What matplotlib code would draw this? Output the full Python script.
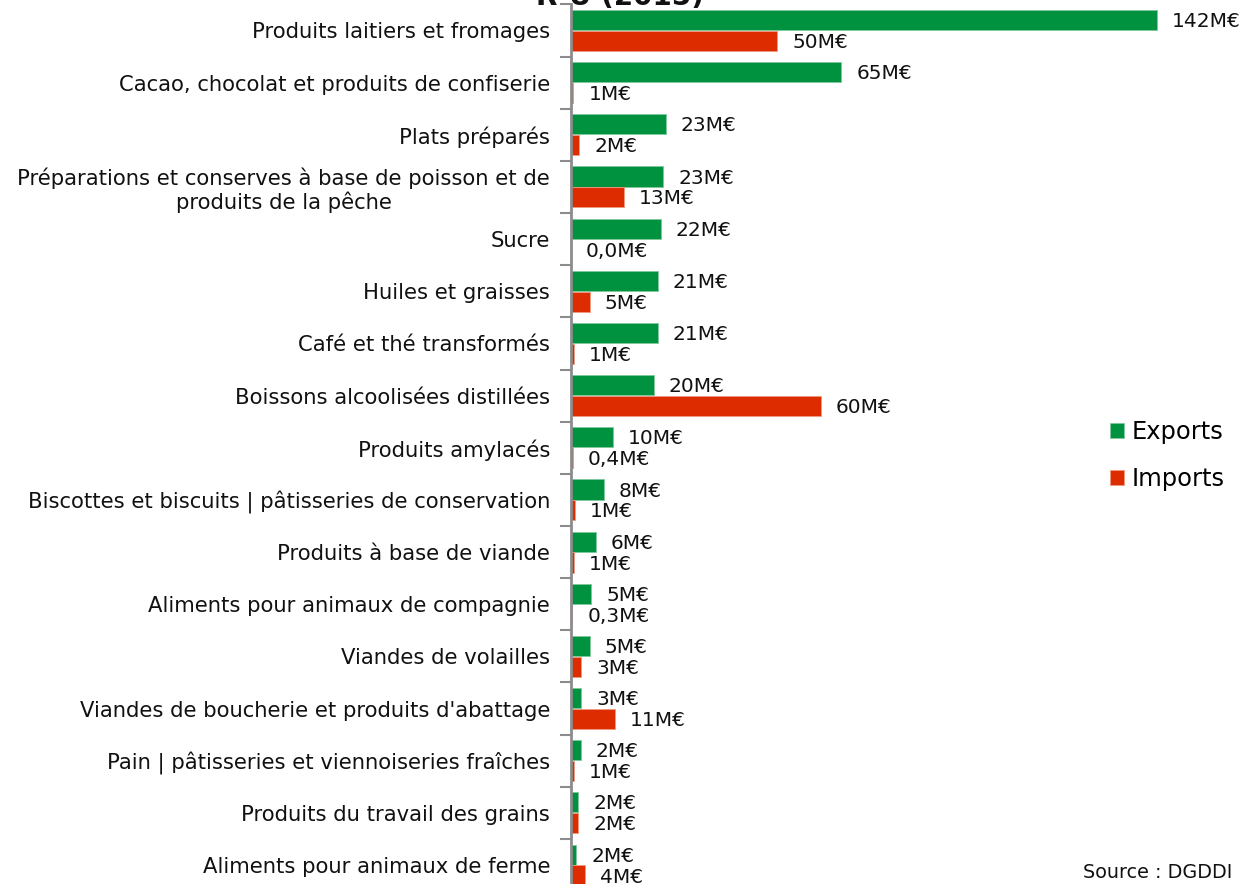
import matplotlib.pyplot as plt
import numpy as np

# Data
categories = [
    "Produits laitiers et fromages",
    "Cacao, chocolat et produits de confiserie",
    "Plats préparés",
    "Préparations et conserves à base de poisson et de\nproduits de la pêche",
    "Sucre",
    "Huiles et graisses",
    "Café et thé transformés",
    "Boissons alcoolisées distillées",
    "Produits amylacés",
    "Biscottes et biscuits | pâtisseries de conservation",
    "Produits à base de viande",
    "Aliments pour animaux de compagnie",
    "Viandes de volailles",
    "Viandes de boucherie et produits d'abattage",
    "Pain | pâtisseries et viennoiseries fraîches",
    "Produits du travail des grains",
    "Aliments pour animaux de ferme",
]
exports = [142, 65.5, 23, 22.4, 21.7, 21, 21, 20, 10.2, 8, 6, 4.9, 4.6, 2.5, 2.4, 1.8, 1.3]
imports = [50, 0.6, 2, 12.8, 0.0, 4.6, 0.8, 60.6, 0.4, 0.9, 0.8, 0.3, 2.5, 10.7, 0.7, 1.8, 3.5]
export_labels = ["142M€", "65M€", "23M€", "23M€", "22M€", "21M€", "21M€", "20M€", "10M€",
                 "8M€", "6M€", "5M€", "5M€", "3M€", "2M€", "2M€", "2M€"]
import_labels = ["50M€", "1M€", "2M€", "13M€", "0,0M€", "5M€", "1M€", "60M€", "0,4M€",
                 "1M€", "1M€", "0,3M€", "3M€", "11M€", "1M€", "2M€", "4M€"]

GREEN = "#00923F"
RED = "#DD2C00"

W, H = 1252, 884
fig = plt.figure(figsize=(W / 100, H / 100), dpi=100)

# axes placed in pixel terms: zero line at x=571, rows ~52 px apart
left, right = 571, 1252
top, bottom = 4.4, 891.1
ax = fig.add_axes([left / W, 1 - bottom / H, (right - left) / W, (bottom - top) / H])

y = np.arange(len(categories))
h = 0.385
ax.barh(y - 0.2, exports, height=h, color=GREEN, edgecolor="#7fc79c", linewidth=0.6,
        label="Exports")
ax.barh(y + 0.2, imports, height=h, color=RED, edgecolor="#f09a80", linewidth=0.6,
        label="Imports")

px = (right - left) / 165.0  # pixels per unit
off = 15 / px
for i in range(len(categories)):
    ax.text(exports[i] + off, y[i] - 0.17, export_labels[i], va="center", ha="left",
            fontsize=14.5, color="#111111")
    ax.text(imports[i] + off, y[i] + 0.23, import_labels[i], va="center", ha="left",
            fontsize=14.5, color="#111111")

ax.set_xlim(0, 165)
ax.set_ylim(len(categories) - 0.5, -0.5)
ax.set_yticks(y)
ax.set_yticklabels(categories, fontsize=15.2, color="#111111", linespacing=1.15)
for lab in ax.get_yticklabels():
    lab.set_multialignment("center")
ax.set_yticks(np.arange(-0.5, len(categories) + 0.5, 1), minor=True)
ax.tick_params(axis="y", which="major", length=0, pad=15)
ax.tick_params(axis="y", which="minor", length=8, width=1.5, color="#8c8c8c", direction="out")
ax.set_xticks([])
for s in ["top", "right", "bottom"]:
    ax.spines[s].set_visible(False)
ax.spines["left"].set_color("#8c8c8c")
ax.spines["left"].set_linewidth(2)

leg = fig.legend(loc="upper left", bbox_to_anchor=(1088 / W, 1 - 398 / H), frameon=False,
                 fontsize=17.4, handlelength=0.6, handleheight=0.6, handletextpad=0.3,
                 labelspacing=0.95)

# title, mostly cut off at the top of the picture
fig.text(620 / W, 1 - 5 / H, "R-U (2015)", ha="center", va="baseline",
         fontsize=20, fontweight="bold", color="#111111")

fig.text(1232 / W, 1 - 872 / H, "Source : DGDDI", ha="right", va="center",
         fontsize=13.8, color="#111111")

fig.savefig("out.png", dpi=100)
